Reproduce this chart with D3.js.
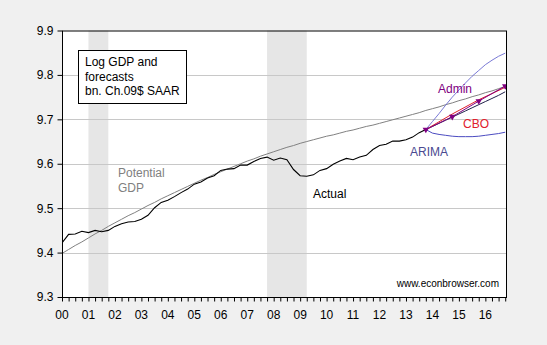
<!DOCTYPE html>
<meta charset="utf-8">
<style>
body { margin: 0; background-color: #f0f0f0; }
svg { display: block; font-family: "Liberation Sans", Arial, sans-serif; }
.grid line { stroke: #c8c8c8; stroke-width: 1px; }
.line { fill: none; }
.axis path, .axis line { stroke: #000; }
.axis text { fill: #000; font-size: 12px; }
</style>
<body>

<script src="https://cdn.jsdelivr.net/npm/d3@7"></script>
<script>

// quarterly data, 2000Q1 .. 2013Q4 (log real GDP, bn. Ch.09$ SAAR)
var actual = [
  9.422, 9.441, 9.442, 9.448,
  9.445, 9.450, 9.447, 9.450,
  9.459, 9.465, 9.469, 9.470,
  9.475, 9.484, 9.501, 9.513,
  9.518, 9.526, 9.535, 9.543,
  9.554, 9.559, 9.568, 9.573,
  9.585, 9.588, 9.589, 9.597,
  9.597, 9.605, 9.612, 9.615,
  9.608, 9.613, 9.609, 9.587,
  9.573, 9.572, 9.575, 9.585,
  9.589, 9.599, 9.606, 9.612,
  9.609, 9.615, 9.619, 9.632,
  9.641, 9.644, 9.651, 9.651,
  9.654, 9.660, 9.670, 9.677
];

// CBO potential GDP, 2000Q1 .. 2016Q4
var potential = [
  9.398, 9.407, 9.416, 9.424,
  9.433, 9.442, 9.450, 9.459,
  9.467, 9.475, 9.483, 9.490,
  9.498, 9.506, 9.513, 9.521,
  9.528, 9.535, 9.542, 9.549,
  9.556, 9.563, 9.569, 9.576,
  9.582, 9.588, 9.594, 9.600,
  9.606, 9.611, 9.617, 9.622,
  9.627, 9.632, 9.637, 9.641,
  9.646, 9.650, 9.654, 9.658,
  9.662, 9.665, 9.669, 9.673,
  9.676, 9.680, 9.684, 9.687,
  9.691, 9.695, 9.699, 9.703,
  9.707, 9.711, 9.715, 9.720,
  9.724, 9.728, 9.733, 9.737,
  9.742, 9.746, 9.751, 9.755,
  9.760, 9.764, 9.769, 9.774
];

// ARIMA forecast 2013Q4 .. 2016Q4, point and bands
var arimaPoint = [9.677, 9.684, 9.691, 9.698, 9.705, 9.712, 9.719,
                  9.726, 9.733, 9.740, 9.747, 9.754, 9.762];
var arimaUpper = [9.677, 9.695, 9.713, 9.732, 9.750, 9.766, 9.782,
                  9.797, 9.810, 9.823, 9.833, 9.842, 9.849];
var arimaLower = [9.677, 9.669, 9.666, 9.664, 9.662, 9.661, 9.661,
                  9.661, 9.662, 9.664, 9.666, 9.668, 9.671];

// annual forecasts, Q4 values 2013 .. 2016
var fcstYears = [2013.75, 2014.75, 2015.75, 2016.75];
var cbo = [9.677, 9.712, 9.744, 9.772];
var admin = [9.677, 9.706, 9.741, 9.775];

var recessions = [[2001.0, 2001.75], [2007.75, 2009.25]];
var yTicks = [9.3, 9.4, 9.5, 9.6, 9.7, 9.8, 9.9];
var yearLabels = d3.range(2000, 2017);

var W = 547, H = 345;
var x = d3.scaleLinear().domain([2000, 2016.78]).range([62, 506]);
var y = d3.scaleLinear().domain([9.3, 9.9]).range([297, 30.5]);

function q(start) { return function(d, i) { return start + i / 4; }; }

var svg = d3.select("body").append("svg")
    .attr("width", W)
    .attr("height", H);

svg.append("defs").append("clipPath").attr("id", "clip")
  .append("rect")
    .attr("x", x.range()[0]).attr("y", y.range()[1])
    .attr("width", x.range()[1] - x.range()[0])
    .attr("height", y.range()[0] - y.range()[1]);

// plot background
svg.append("rect")
    .attr("x", x.range()[0]).attr("y", y.range()[1])
    .attr("width", x.range()[1] - x.range()[0])
    .attr("height", y.range()[0] - y.range()[1])
    .attr("fill", "#fff");

// recession shading
svg.selectAll(".rec").data(recessions).enter().append("rect")
    .attr("x", function(d) { return x(d[0]); })
    .attr("width", function(d) { return x(d[1]) - x(d[0]); })
    .attr("y", y.range()[1])
    .attr("height", y.range()[0] - y.range()[1])
    .attr("fill", "#e6e6e6");

// grid
svg.append("g").attr("class", "grid")
  .selectAll("line").data(yTicks.slice(1, -1)).enter().append("line")
    .attr("x1", x.range()[0]).attr("x2", x.range()[1])
    .attr("y1", function(d) { return Math.round(y(d)) + 0.5; })
    .attr("y2", function(d) { return Math.round(y(d)) + 0.5; });

var plot = svg.append("g").attr("clip-path", "url(#clip)");

function drawLine(data, tx, color, width) {
  var line = d3.line()
      .x(function(d, i) { return x(tx(d, i)); })
      .y(function(d) { return y(d); });
  plot.append("path")
      .datum(data)
      .attr("class", "line")
      .attr("stroke", color)
      .attr("stroke-width", width)
      .attr("d", line);
}

drawLine(potential, q(2000), "#808080", 1);
drawLine(arimaUpper, q(2013.75), "#6a6ad0", 0.9);
drawLine(arimaLower, q(2013.75), "#4b4bc0", 1);
drawLine(arimaPoint, q(2013.75), "#20204a", 1);
drawLine(actual, q(2000), "#000", 1.1);
drawLine(cbo, function(d, i) { return fcstYears[i]; }, "#e0202c", 1);
drawLine(admin, function(d, i) { return fcstYears[i]; }, "#800080", 1);

plot.selectAll(".mk").data(admin).enter().append("path")
    .attr("transform", function(d, i) {
      return "translate(" + x(fcstYears[i]) + "," + y(d) + ") rotate(180)";
    })
    .attr("d", d3.symbol().type(d3.symbolTriangle).size(18))
    .attr("fill", "#800080");

// frame
svg.append("rect")
    .attr("x", x.range()[0] + 0.5).attr("y", y.range()[1] + 0.5)
    .attr("width", x.range()[1] - x.range()[0])
    .attr("height", y.range()[0] - y.range()[1])
    .attr("fill", "none").attr("stroke", "#000");

// y axis
svg.append("g")
    .attr("class", "axis")
    .attr("transform", "translate(" + (x.range()[0] + 0.5) + ",0)")
    .call(d3.axisLeft(y).tickValues(yTicks).tickFormat(d3.format(".1f"))
      .tickSize(5).tickPadding(4))
    .call(function(g) { g.select(".domain").remove(); });

// x axis: quarterly ticks, year labels
var qTicks = d3.range(0, 68).map(function(i) { return 2000 + i / 4; });
var xg = svg.append("g")
    .attr("class", "axis")
    .attr("transform", "translate(0," + (y.range()[0] + 0.5) + ")");
xg.call(d3.axisBottom(x).tickValues(qTicks).tickSize(4).tickFormat(""))
    .call(function(g) { g.select(".domain").remove(); });
xg.append("g").selectAll("text").data(yearLabels).enter().append("text")
    .attr("x", function(d) { return x(d); })
    .attr("y", 21)
    .attr("text-anchor", "middle")
    .attr("fill", "#000")
    .style("font-size", "12px")
    .text(function(d) { return d3.format("02d")(d % 100); });

// legend box
svg.append("rect")
    .attr("x", 78.5).attr("y", 50.5).attr("width", 108).attr("height", 53)
    .attr("fill", "#fff").attr("stroke", "#000");
svg.append("text")
    .attr("x", 85).attr("y", 66)
    .style("font-size", "12px")
  .selectAll("tspan").data(["Log GDP and", "forecasts", "bn. Ch.09$ SAAR"])
  .enter().append("tspan")
    .attr("x", 85)
    .attr("dy", function(d, i) { return i ? 14.5 : 0; })
    .text(function(d) { return d; });

// series labels
var labels = [
  {t: "Potential", x: 118, y: 177, c: "#808080"},
  {t: "GDP", x: 118, y: 192, c: "#808080"},
  {t: "Actual", x: 313, y: 198, c: "#000"},
  {t: "Admin", x: 438, y: 93, c: "#800080"},
  {t: "CBO", x: 463, y: 128, c: "#e0202c"},
  {t: "ARIMA", x: 410, y: 156, c: "#4a4a90"}
];
svg.selectAll(".lbl").data(labels).enter().append("text")
    .attr("x", function(d) { return d.x; })
    .attr("y", function(d) { return d.y; })
    .attr("fill", function(d) { return d.c; })
    .style("font-size", "12px")
    .text(function(d) { return d.t; });

svg.append("text")
    .attr("x", 499).attr("y", 287)
    .attr("text-anchor", "end")
    .style("font-size", "10px")
    .text("www.econbrowser.com");

</script>
</body>
